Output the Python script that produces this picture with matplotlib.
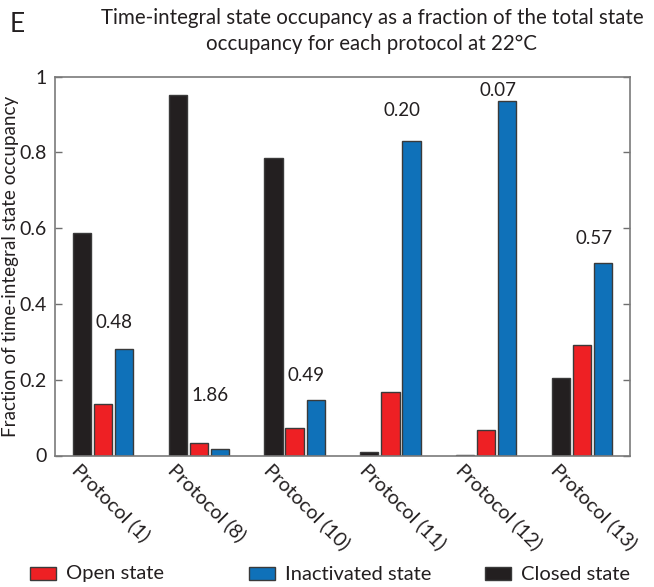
import matplotlib
matplotlib.use("Agg")
import matplotlib.pyplot as plt
from matplotlib.patches import Rectangle
import numpy as np

plt.rcParams['font.family'] = ['Lato', 'DejaVu Sans']

protocols = ["Protocol (1)", "Protocol (8)", "Protocol (10)",
             "Protocol (11)", "Protocol (12)", "Protocol (13)"]
closed_state = [0.587, 0.953, 0.785, 0.008, 0.002, 0.204]
open_state = [0.135, 0.032, 0.072, 0.167, 0.067, 0.292]
inactivated_state = [0.281, 0.017, 0.146, 0.829, 0.935, 0.508]
ratio_labels = ["0.48", "1.86", "0.49", "0.20", "0.07", "0.57"]
label_heights = [0.35, 0.158, 0.21, 0.91, 0.963, 0.573]

C_CLOSED = "#231f20"
C_OPEN = "#ee2024"
C_INACT = "#0f71b9"
EDGE = "#3a3a3a"
TXT = "#231f20"

W, H = 654, 587
fig = plt.figure(figsize=(W / 100, H / 100), dpi=100)
ax = fig.add_axes([55 / W, 1 - 455.5 / H, 575 / W, 378.8 / H])

x = np.arange(1, len(protocols) + 1)
bw = 0.19
off = 0.22
ax.bar(x - off, closed_state, bw, color=C_CLOSED, edgecolor=EDGE, linewidth=1.0)
ax.bar(x, open_state, bw, color=C_OPEN, edgecolor=EDGE, linewidth=1.0)
ax.bar(x + off, inactivated_state, bw, color=C_INACT, edgecolor=EDGE, linewidth=1.0)

for xi, lab, yl in zip(x, ratio_labels, label_heights):
    ax.text(xi + 0.12, yl, lab, ha="center", va="center", fontsize=13.5, color=TXT)

ax.set_xlim(0.5, 6.5)
ax.set_ylim(0, 1)
ax.set_yticks([0, 0.2, 0.4, 0.6, 0.8, 1])
ax.set_yticklabels(["0", "0.2", "0.4", "0.6", "0.8", "1"])
ax.tick_params(axis="y", direction="in", length=5, width=1, color="#6f6f6f",
               labelsize=14, pad=6, right=True, labelcolor=TXT)
ax.set_xticks([])
for s in ax.spines.values():
    s.set_color("#7a7a7a")
    s.set_linewidth(1.2)

# rotated category labels under each group
for xi, name in zip(x, protocols):
    ax.text(xi - 0.22, -0.012, name, rotation=-45, rotation_mode="anchor",
            ha="left", va="top", fontsize=14.3, color=TXT,
            transform=ax.get_xaxis_transform())

ax.set_ylabel("Fraction of time-integral state occupancy", fontsize=13.6,
              color=TXT)
ax.yaxis.set_label_coords(-0.062, 0.5)

fig.text(372 / W, 1 - 31 / H,
         "Time-integral state occupancy as a fraction of the total state\n"
         "occupancy for each protocol at 22°C",
         ha="center", va="center", fontsize=14.8, color=TXT, linespacing=1.35)
fig.text(10 / W, 1 - 24 / H, "E", ha="left", va="center", fontsize=19, color=TXT)

# legend entries along the bottom
legend_items = [("Open state", C_OPEN, 30), ("Inactivated state", C_INACT, 249),
                ("Closed state", C_CLOSED, 485)]
for name, col, px in legend_items:
    fig.patches.append(Rectangle((px / W, 1 - 580 / H), 26 / W, 13 / H,
                                 transform=fig.transFigure, facecolor=col,
                                 edgecolor=EDGE, linewidth=1.0))
    fig.text((px + 36) / W, 1 - 574 / H, name, ha="left", va="center",
             fontsize=14.5, color=TXT)

fig.savefig("out.png", dpi=100)
